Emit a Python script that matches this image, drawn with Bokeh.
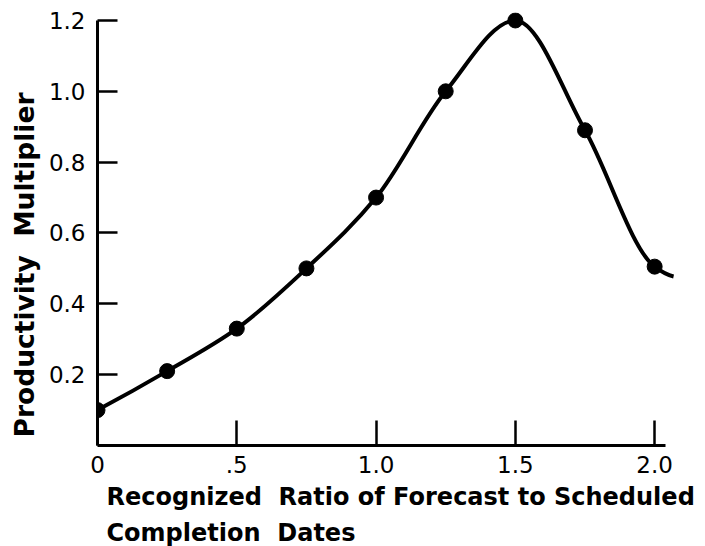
import numpy as np
from bokeh.plotting import figure
from bokeh.models import FixedTicker, Title
from bokeh.embed import file_html
from bokeh.resources import INLINE

# ---- data ----
ratio = [0.0, 0.25, 0.5, 0.75, 1.0, 1.25, 1.5, 1.75, 2.0]
multiplier = [0.10, 0.21, 0.33, 0.50, 0.70, 1.00, 1.20, 0.89, 0.505]
tail_ratio = [2.068]
tail_multiplier = [0.477]

x_ticks = [0, 0.5, 1.0, 1.5, 2.0]
x_tick_labels = ["0", ".5", "1.0", "1.5", "2.0"]
y_ticks = [0.2, 0.4, 0.6, 0.8, 1.0, 1.2]
y_tick_labels = ["0.2", "0.4", "0.6", "0.8", "1.0", "1.2"]

NB = "\u00a0"
x_title_lines = ["Recognized" + NB + " Ratio of Forecast to Scheduled",
                 "Completion" + NB + " Dates"]
y_title = "Productivity" + NB + " Multiplier"

# ---- smooth curve through the points (PCHIP slopes -> cubic bezier segments) ----
cx = np.array(ratio + tail_ratio, dtype=float)
cy = np.array(multiplier + tail_multiplier, dtype=float)
h = np.diff(cx)
d = np.diff(cy) / h
n = len(cx)
m = np.zeros(n)
for k in range(1, n - 1):
    if d[k - 1] * d[k] <= 0:
        m[k] = 0.0
    else:
        w1 = 2 * h[k] + h[k - 1]
        w2 = h[k] + 2 * h[k - 1]
        m[k] = (w1 + w2) / (w1 / d[k - 1] + w2 / d[k])
m[0] = ((2 * h[0] + h[1]) * d[0] - h[0] * d[1]) / (h[0] + h[1])
m[-1] = ((2 * h[-1] + h[-2]) * d[-1] - h[-1] * d[-2]) / (h[-1] + h[-2])

x0, y0 = cx[:-1], cy[:-1]
x1, y1 = cx[1:], cy[1:]
cx0 = x0 + h / 3
cy0 = y0 + m[:-1] * h / 3
cx1 = x1 - h / 3
cy1 = y1 - m[1:] * h / 3

p = figure(width=705, height=546, x_range=(0, 2.1), y_range=(0, 1.2225),
           output_backend="svg", toolbar_location=None,
           min_border_left=96, min_border_right=23, min_border_top=12, min_border_bottom=101)
p.outline_line_color = None
p.xgrid.visible = False
p.ygrid.visible = False
p.background_fill_color = "white"
p.border_fill_color = "white"

p.bezier(x0=x0, y0=y0, x1=x1, y1=y1, cx0=cx0, cy0=cy0, cx1=cx1, cy1=cy1,
         line_color="black", line_width=4)
p.scatter(ratio, multiplier, size=15, color="black")

for ax in (p.xaxis[0], p.yaxis[0]):
    ax.axis_line_width = 3
    ax.axis_line_color = "black"
    ax.major_tick_line_width = 2.5
    ax.major_tick_line_color = "black"
    ax.major_tick_out = 0
    ax.minor_tick_line_color = None
    ax.major_label_text_font = "DejaVu Sans"
    ax.major_label_text_font_size = "23px"
    ax.major_label_text_color = "black"

p.xaxis.ticker = FixedTicker(ticks=x_ticks)
p.xaxis.major_label_overrides = dict(zip(x_ticks, x_tick_labels))
p.xaxis.major_tick_in = 25
p.xaxis.major_label_standoff = 10
p.xaxis.bounds = (0, 2.04)

p.yaxis.ticker = FixedTicker(ticks=y_ticks)
p.yaxis.major_label_overrides = dict(zip(y_ticks, y_tick_labels))
p.yaxis.major_tick_in = 20
p.yaxis.major_label_standoff = 12
p.yaxis.bounds = (0, 1.2)

for txt, so in zip(x_title_lines, [11, 0]):
    p.add_layout(Title(text=txt, align="left", offset=9, standoff=so,
                       text_font="DejaVu Sans", text_font_style="bold",
                       text_font_size="24px", text_color="black"), "below")

p.add_layout(Title(text=y_title, align="left", offset=8, standoff=12,
                   text_font="DejaVu Sans", text_font_style="bold",
                   text_font_size="26.5px", text_color="black"), "left")

open("out.html", "w").write(file_html(p, INLINE))
